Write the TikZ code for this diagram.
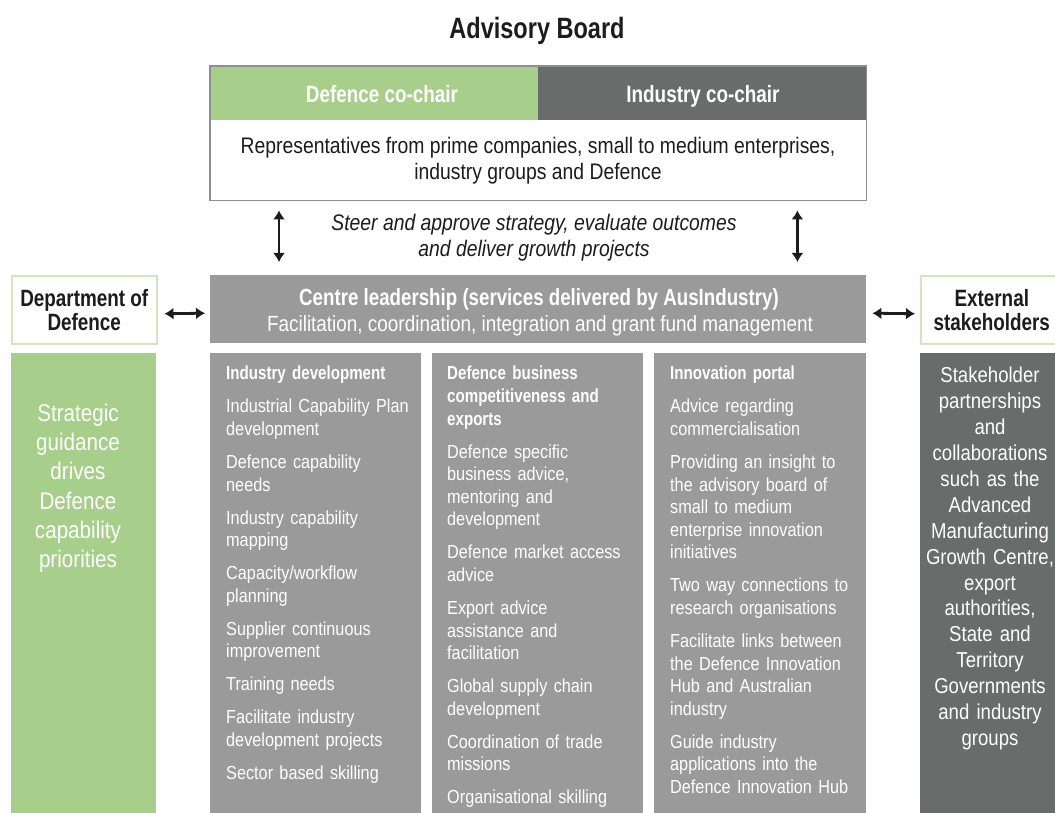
\documentclass[tikz,border=0pt]{standalone}
\usepackage{fontspec}
\setmainfont{Liberation Sans}[UprightFeatures={FakeStretch=0.86},ItalicFeatures={FakeStretch=0.86},BoldFeatures={FakeStretch=0.8}]
\usetikzlibrary{arrows.meta}
\definecolor{cGreen}{HTML}{A7CF8B}
\definecolor{cDark}{HTML}{686C6B}
\definecolor{cMid}{HTML}{9A9A9A}
\definecolor{cFrame}{HTML}{8E8E8E}
\definecolor{cLight}{HTML}{CFE6C0}
\definecolor{cInk}{HTML}{1C1C1C}
\begin{document}
\begin{tikzpicture}[x=1pt,y=-1pt,
  panel/.style={draw=none,inner sep=0pt,anchor=north west},
  coltext/.style={anchor=north west,inner sep=0pt,text width=200pt,align=left,text=white,
    font=\fontsize{18.9}{22.6}\selectfont},
  dblarr/.style={{Latex[length=9pt,width=12pt]}-{Latex[length=9pt,width=12pt]},line width=2.8pt,cInk},
  boldlbl/.style={inner sep=0pt,anchor=base,font=\bfseries\fontsize{23.6}{24}\selectfont},
  sidebox/.style={panel,fill=white,draw=cLight,line width=1.5pt,minimum height=68pt,align=center,
    text=cInk,font=\bfseries\fontsize{23.6}{24}\selectfont}
]
\useasboundingbox (0,0) rectangle (1055,813);

% title
\node[boldlbl,text=cInk,font=\bfseries\fontsize{29.4}{30}\selectfont] (title) at (537,38.5) {Advisory Board};

% advisory board box
\node[panel,fill=white,minimum width=656pt,minimum height=134pt] (board) at (210,66) {};
\node[panel,fill=cGreen,minimum width=328pt,minimum height=54pt] (dchair) at (210,66) {};
\node[panel,fill=cDark,minimum width=328pt,minimum height=54pt] (ichair) at (538,66) {};
\draw[cFrame,line width=1.5pt] (board.north west) rectangle (board.south east);
\node[boldlbl,text=white] (dchairt) at (382,102.5) {Defence co-chair};
\node[boldlbl,text=white] (ichairt) at (703,102.5) {Industry co-chair};
\node[inner sep=0pt,anchor=north,align=center,text=cInk,font=\fontsize{22.5}{26}\selectfont] (reps) at (538,137)
  {Representatives from prime companies, small to medium enterprises,\\industry groups and Defence};

% steer text
\node[inner sep=0pt,anchor=north,align=center,text=cInk,font=\itshape\fontsize{22.5}{26}\selectfont] (steer) at (534,214)
  {Steer and approve strategy, evaluate outcomes\\and deliver growth projects};

% centre leadership
\node[panel,fill=cMid,minimum width=656pt,minimum height=68pt] (lead) at (210,275) {};
\node[inner sep=0pt,anchor=base,text=white,font=\bfseries\fontsize{23.4}{24}\selectfont] (leadA) at (539,305)
  {Centre leadership (services delivered by AusIndustry)};
\node[inner sep=0pt,anchor=base,text=white,font=\fontsize{22}{24}\selectfont] (leadB) at (540,331.5)
  {Facilitation, coordination, integration and grant fund management};

% side boxes
\node[sidebox,minimum width=145pt] (dod) at (11,275) {Department of\\Defence};
\node[sidebox,minimum width=142pt] (ext) at (920,275) {External\\stakeholders};

% arrows
\draw[dblarr] ([xshift=69pt,yshift=-10pt]board.south west) -- ([xshift=69pt,yshift=13pt]lead.north west);
\draw[dblarr] ([xshift=-69pt,yshift=-10pt]board.south east) -- ([xshift=-69pt,yshift=13pt]lead.north east);
\draw[dblarr] ([xshift=7pt,yshift=-4pt]dod.east) -- ([xshift=-5pt,yshift=-4pt]lead.west);
\draw[dblarr] ([xshift=6pt,yshift=-4pt]lead.east) -- ([xshift=-5pt,yshift=-4pt]ext.west);

% columns
\node[panel,fill=cGreen,minimum width=145pt,minimum height=470pt] (gcol) at (11,353) {};
\node[panel,fill=cMid,minimum width=211pt,minimum height=470pt] (col1) at (210,353) {};
\node[panel,fill=cMid,minimum width=211pt,minimum height=470pt] (col2) at (432,353) {};
\node[panel,fill=cMid,minimum width=212pt,minimum height=470pt] (col3) at (654,353) {};
\node[panel,fill=cDark,minimum width=142pt,minimum height=470pt] (dcol) at (920,353) {};

\node[inner sep=0pt,anchor=north,align=center,text width=145pt,text=white,font=\fontsize{24}{29.2}\selectfont] (gtxt) at (78,404)
  {Strategic\\guidance\\drives\\Defence\\capability\\priorities};

\node[inner sep=0pt,anchor=north,align=center,text width=150pt,text=white,font=\fontsize{21.6}{25.9}\selectfont] (dtxt) at (990,367)
  {Stakeholder\\partnerships\\and\\collaborations\\such as the\\Advanced\\Manufacturing\\Growth Centre,\\export\\authorities,\\State and\\Territory\\Governments\\and industry\\groups};

\node[coltext] (c1t) at (226,366) {\textbf{Industry development}\\[10.4pt]
Industrial Capability Plan\\development\\[10.4pt]
Defence capability\\needs\\[10.4pt]
Industry capability\\mapping\\[10.4pt]
Capacity/workflow\\planning\\[10.4pt]
Supplier continuous\\improvement\\[10.4pt]
Training needs\\[10.4pt]
Facilitate industry\\development projects\\[10.4pt]
Sector based skilling};

\node[coltext] (c2t) at (447,366) {{\bfseries Defence business}\\{\bfseries competitiveness and}\\{\bfseries exports}\\[10.4pt]
Defence specific\\business advice,\\mentoring and\\development\\[10.4pt]
Defence market access\\advice\\[10.4pt]
Export advice\\assistance and\\facilitation\\[10.4pt]
Global supply chain\\development\\[10.4pt]
Coordination of trade\\missions\\[10.4pt]
Organisational skilling};

\node[coltext] (c3t) at (670,366) {\textbf{Innovation portal}\\[10.4pt]
Advice regarding\\commercialisation\\[10.4pt]
Providing an insight to\\the advisory board of\\small to medium\\enterprise innovation\\initiatives\\[10.4pt]
Two way connections to\\research organisations\\[10.4pt]
Facilitate links between\\the Defence Innovation\\Hub and Australian\\industry\\[10.4pt]
Guide industry\\applications into the\\Defence Innovation Hub};
\end{tikzpicture}
\end{document}
